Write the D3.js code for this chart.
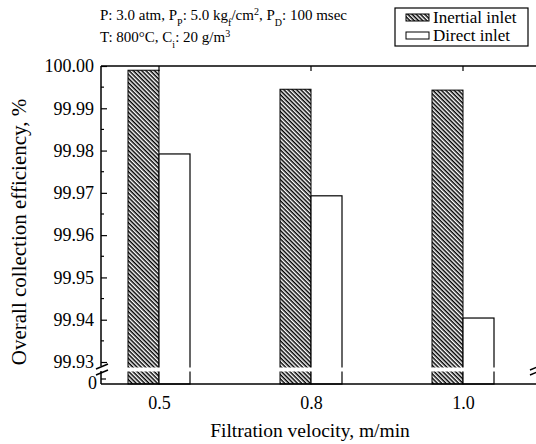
<!DOCTYPE html>
<html lang="en">
<head>
<meta charset="utf-8">
<title>Collection efficiency</title>
<script src="https://cdn.jsdelivr.net/npm/d3@7"></script>
<style>
  body { margin: 0; background: #fff; }
  text { font-family: "Liberation Serif", "Times New Roman", serif; fill: #000; }
</style>
</head>
<body>
<script>
// data
var categories = ["0.5", "0.8", "1.0"];
var inertial = [99.999, 99.9945, 99.9943];
var direct = [99.9792, 99.9693, 99.9404];
var seriesNames = ["Inertial inlet", "Direct inlet"];
var majorTicks = [99.93, 99.94, 99.95, 99.96, 99.97, 99.98, 99.99, 100.00];
var minorTicks = [99.935, 99.945, 99.955, 99.965, 99.975, 99.985, 99.995];

var width = 536, height = 444;
var plotL = 101, plotT = 66, plotR = 560, plotB = 384;
var barW = 31;

var svg = d3.select("body").append("svg")
    .attr("width", width)
    .attr("height", height);

// diagonal hatch ("\\\\")
var defs = svg.append("defs");
var pat = defs.append("pattern")
    .attr("id", "hatch")
    .attr("patternUnits", "userSpaceOnUse")
    .attr("width", 3).attr("height", 3)
    .attr("patternTransform", "rotate(45)");
pat.append("rect").attr("width", 3).attr("height", 3).attr("fill", "#fff");
pat.append("rect").attr("width", 3).attr("height", 1.5).attr("fill", "#000");

var x = d3.scalePoint()
    .domain(categories)
    .range([159, 463]);

var y = d3.scaleLinear()
    .domain([99.93, 100.00])
    .range([362, plotT]);

// bars
var g = svg.append("g");
g.selectAll("rect.inertial")
  .data(inertial)
  .enter().append("rect")
    .attr("class", "inertial")
    .attr("x", function(d, i) { return x(categories[i]) - barW; })
    .attr("y", function(d) { return y(d); })
    .attr("width", barW)
    .attr("height", function(d) { return plotB - y(d); })
    .attr("fill", "url(#hatch)")
    .attr("stroke", "#000").attr("stroke-width", 1);

g.selectAll("rect.direct")
  .data(direct)
  .enter().append("rect")
    .attr("class", "direct")
    .attr("x", function(d, i) { return x(categories[i]); })
    .attr("y", function(d) { return y(d); })
    .attr("width", barW)
    .attr("height", function(d) { return plotB - y(d); })
    .attr("fill", "#fff")
    .attr("stroke", "#000").attr("stroke-width", 1.2);

// break gap across bars
svg.append("rect")
    .attr("x", plotL + 2).attr("y", 367.5)
    .attr("width", plotR - plotL).attr("height", 4)
    .attr("fill", "#fff");

// frame lines
function seg(x1, y1, x2, y2) {
  svg.append("line").attr("x1", x1).attr("x2", x2).attr("y1", y1).attr("y2", y2)
      .attr("stroke", "#000").attr("stroke-width", 1.5);
}
seg(plotL, plotT, plotR, plotT);
seg(plotL, plotB, plotR, plotB);
seg(plotL, plotT, plotL, 366);
seg(plotL, 371, plotL, plotB);

// y axis ticks (inward)
var yAxis = d3.axisLeft(y)
    .tickValues(majorTicks)
    .tickSize(-6)
    .tickPadding(7)
    .tickFormat(d3.format(".2f"));
var ya = svg.append("g").attr("transform", "translate(" + plotL + ",0)").call(yAxis);
ya.select(".domain").remove();
ya.selectAll("line").attr("stroke-width", 1.2);
ya.selectAll("text").style("font-size", "18px")
    .attr("fill", "#000")
    .style("font-family", "Liberation Serif");
svg.selectAll("line.minor")
  .data(minorTicks)
  .enter().append("line")
    .attr("x1", plotL).attr("x2", plotL + 3)
    .attr("y1", function(d) { return y(d); })
    .attr("y2", function(d) { return y(d); })
    .attr("stroke", "#000").attr("stroke-width", 1.2);

// zero tick below the break
svg.append("line").attr("x1", plotL).attr("x2", plotL + 5).attr("y1", 379).attr("y2", 379)
    .attr("stroke", "#000").attr("stroke-width", 1.2);
svg.append("text").attr("x", plotL - 4).attr("y", 389)
    .attr("text-anchor", "end").style("font-size", "18px").text("0");

// break marks
function slash(cx, cy) {
  svg.append("line")
      .attr("x1", cx - 6).attr("y1", cy + 3)
      .attr("x2", cx + 6).attr("y2", cy - 2)
      .attr("stroke", "#000").attr("stroke-width", 1.5);
}
slash(plotL + 1, 366);
slash(plotL + 1, 372);
slash(536, 367);
slash(536, 372);

// x axis labels + top ticks
var xb = svg.append("g").attr("transform", "translate(0," + plotB + ")")
    .call(d3.axisBottom(x).tickSize(0).tickPadding(12));
xb.select(".domain").remove();
xb.selectAll("text").style("font-size", "18px").attr("fill", "#000")
    .style("font-family", "Liberation Serif");
svg.selectAll("line.xtop")
  .data(categories)
  .enter().append("line")
    .attr("x1", function(d) { return x(d); })
    .attr("x2", function(d) { return x(d); })
    .attr("y1", plotT).attr("y2", plotT + 5)
    .attr("stroke", "#000").attr("stroke-width", 1.2);

// axis titles
svg.append("text")
    .attr("x", 310).attr("y", 437)
    .attr("text-anchor", "middle")
    .style("font-size", "19.5px")
    .text("Filtration velocity, m/min");
svg.append("text")
    .attr("transform", "translate(26,232) rotate(-90)")
    .attr("text-anchor", "middle")
    .style("font-size", "21px")
    .text("Overall collection efficiency, %");

// conditions note
var note = svg.append("g").style("font-size", "15px");
function sub(t, s, shift) {
  t.append("tspan").attr("baseline-shift", shift).style("font-size", "10px").text(s);
}
var t1 = note.append("text").attr("x", 100).attr("y", 20);
t1.append("tspan").text("P: 3.0 atm, P");
sub(t1, "P", "sub");
t1.append("tspan").text(": 5.0 kg");
sub(t1, "f", "sub");
t1.append("tspan").text("/cm");
sub(t1, "2", "super");
t1.append("tspan").text(", P");
sub(t1, "D", "sub");
t1.append("tspan").text(": 100 msec");
var t2 = note.append("text").attr("x", 100).attr("y", 42);
t2.append("tspan").text("T: 800°C, C");
sub(t2, "i", "sub");
t2.append("tspan").text(": 20 g/m");
sub(t2, "3", "super");

// legend
var lg = svg.append("g");
lg.append("rect").attr("x", 395).attr("y", 8).attr("width", 133).attr("height", 38)
    .attr("fill", "#fff").attr("stroke", "#000").attr("stroke-width", 1.2);
var fills = ["url(#hatch)", "#fff"];
seriesNames.forEach(function(name, i) {
  lg.append("rect")
      .attr("x", 406).attr("y", 14 + i * 18)
      .attr("width", 23).attr("height", 7)
      .attr("fill", fills[i]).attr("stroke", "#000").attr("stroke-width", 1);
  lg.append("text")
      .attr("x", 433).attr("y", 23 + i * 18)
      .style("font-size", "17px")
      .text(name);
});
</script>
</body>
</html>
